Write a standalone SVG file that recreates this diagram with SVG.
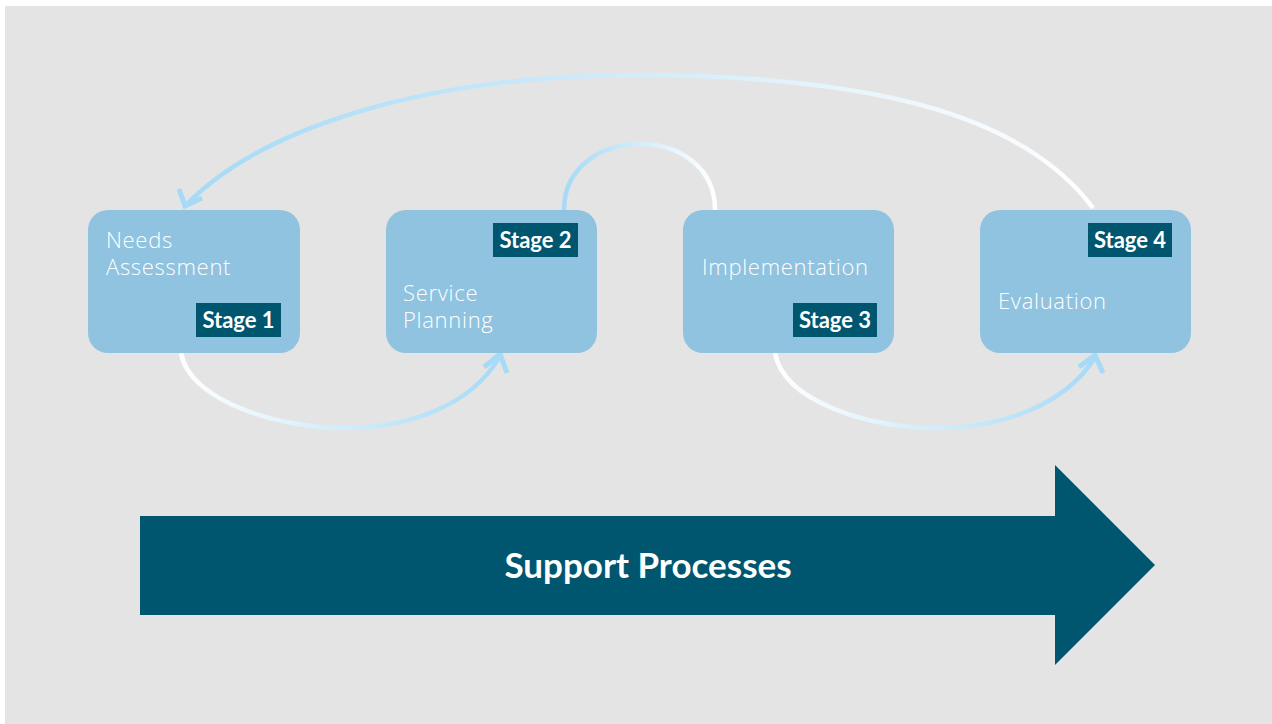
<svg xmlns="http://www.w3.org/2000/svg" width="1272" height="724" viewBox="0 0 1272 724">
<style>
.box{fill:#8FC3DF}
.lbl{font-family:"Open Sans","Liberation Sans",sans-serif;font-weight:300;font-size:22px;letter-spacing:0.7px;fill:#FFFFFF}
.badge{fill:#00566F}
.btxt{font-family:Lato,"Liberation Sans",sans-serif;font-weight:700;font-size:22px;fill:#FFFFFF;text-anchor:middle}
.con{fill:none;stroke-width:4.5}
.head{fill:none;stroke:#A6DAF6;stroke-width:5;stroke-linejoin:miter}
</style>
<defs>
<linearGradient id="gWB1" gradientUnits="userSpaceOnUse" x1="181" y1="0" x2="500" y2="0">
<stop offset="0" stop-color="#FFFFFF"/><stop offset="1" stop-color="#A6DAF6"/>
</linearGradient>
<linearGradient id="gWB2" gradientUnits="userSpaceOnUse" x1="775" y1="0" x2="1095" y2="0">
<stop offset="0" stop-color="#FFFFFF"/><stop offset="1" stop-color="#A6DAF6"/>
</linearGradient>
<linearGradient id="gBW" gradientUnits="userSpaceOnUse" x1="564" y1="0" x2="715" y2="0">
<stop offset="0" stop-color="#A6DAF6"/><stop offset="1" stop-color="#FFFFFF"/>
</linearGradient>
<linearGradient id="gTop" gradientUnits="userSpaceOnUse" x1="186" y1="0" x2="1093" y2="0">
<stop offset="0" stop-color="#A6DAF6"/><stop offset="1" stop-color="#FFFFFF"/>
</linearGradient>
</defs>
<rect x="5" y="6" width="1267" height="718" fill="#E4E4E4"/>

<g id="connectors">
<path class="con" stroke="url(#gWB1)" d="M181,353 C190,402 280,428 345,428 C410,428 472,405 500,356"/>
<polyline class="head" points="484,367 500,354 507,373"/>
<path class="con" stroke="url(#gBW)" d="M564,210 C564,168 600,144 640,144 C680,144 715,168 715,210"/>
<path class="con" stroke="url(#gWB2)" d="M775,353 C784,402 870,428 935,428 C1002,428 1066,405 1095,357"/>
<polyline class="head" points="1079,367 1095,355 1103,373"/>
<path class="con" stroke="url(#gTop)" d="M1093,208 C1020,110 860,76 640,75 C420,75 260,130 187,204"/>
<polyline class="head" points="179,189 185,206 202,198"/>
</g>

<g id="stage1">
<rect class="box" x="88" y="210" width="212" height="143" rx="20"/>
<text class="lbl" x="106" y="248">Needs</text>
<text class="lbl" x="106" y="275">Assessment</text>
<rect class="badge" x="196" y="303" width="85" height="34"/>
<text class="btxt" x="238.5" y="328">Stage 1</text>
</g>

<g id="stage2">
<rect class="box" x="386" y="210" width="211" height="143" rx="20"/>
<rect class="badge" x="493" y="223" width="85" height="34"/>
<text class="btxt" x="535.5" y="248">Stage 2</text>
<text class="lbl" x="403" y="301">Service</text>
<text class="lbl" x="403" y="328">Planning</text>
</g>

<g id="stage3">
<rect class="box" x="683" y="210" width="211" height="143" rx="20"/>
<text class="lbl" x="702" y="275">Implementation</text>
<rect class="badge" x="793" y="303" width="84" height="34"/>
<text class="btxt" x="835" y="328">Stage 3</text>
</g>

<g id="stage4">
<rect class="box" x="980" y="210" width="211" height="143" rx="20"/>
<rect class="badge" x="1088" y="223" width="84" height="34"/>
<text class="btxt" x="1130" y="248">Stage 4</text>
<text class="lbl" x="998" y="309">Evaluation</text>
</g>

<g id="support">
<polygon fill="#00566F" points="140,516 1055,516 1055,465 1155,565 1055,665 1055,615 140,615"/>
<text x="648" y="578" font-family="Lato,'Liberation Sans',sans-serif" font-weight="700" font-size="35" fill="#FFFFFF" text-anchor="middle">Support Processes</text>
</g>
</svg>
